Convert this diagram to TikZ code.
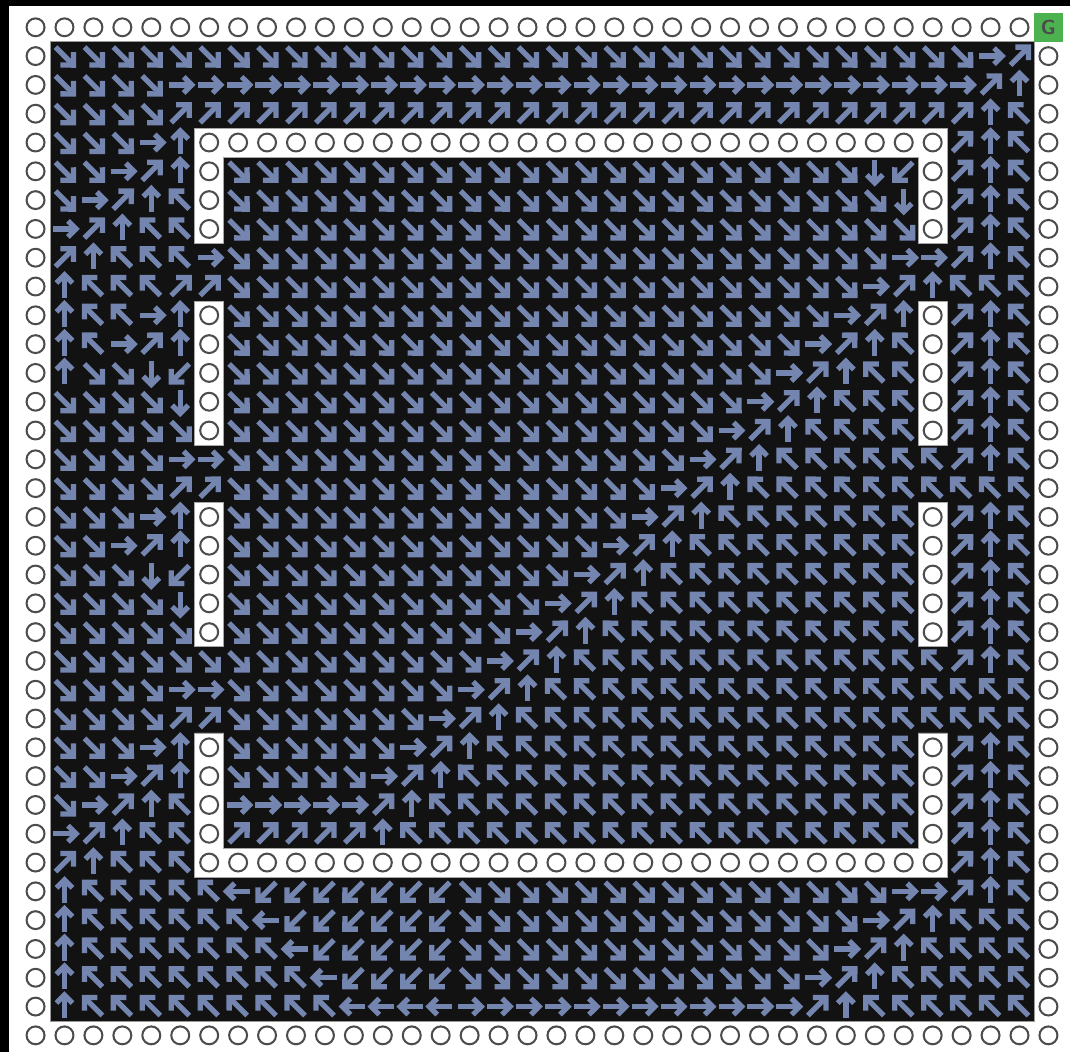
\documentclass[tikz,border=0pt]{standalone}
\definecolor{actblue}{RGB}{116,134,176}
\definecolor{gridblack}{RGB}{18,18,18}
\definecolor{goalgreen}{RGB}{76,178,80}
\def\angR{0}\def\angU{90}\def\angL{180}\def\angD{270}
\def\anga{45}\def\angb{135}\def\angd{225}\def\angc{315}

\begin{document}
\begin{tikzpicture}[x=0.5cm, y=0.4976cm,
        move/.style={draw=actblue, line width=2.6pt, line join=miter},
        wall/.style={draw=black!70, line width=1pt},
        block/.style={fill=white, draw=black!35, line width=0.4pt},
        goal/.style={fill=goalgreen, minimum width=0.5cm, minimum height=0.4976cm,
                inner sep=0pt, font=\sffamily\bfseries, text=black!70},
        pics/act/.style={code={
                \draw[move] (-\len,0) -- (\len,0);
                \draw[move] (\len-\head,\head) -- (\len,0) -- (\len-\head,-\head);
            }}
    ]
    \useasboundingbox (-0.728,0.448) rectangle (36.245,-36.08);
    \fill[black] (-0.728,0.448) rectangle (36.245,0.24);
    \fill[black] (-0.728,0.448) rectangle (-0.417,-36.08);

    \fill[gridblack, draw=black!40, line width=0.4pt] (1,-1) rectangle (35,-35);
    \path[block] (6,-4) -- (32,-4) -- (32,-8) -- (31,-8) -- (31,-5) -- (7,-5) -- (7,-8) -- (6,-8) -- cycle;
    \path[block] (6,-10) rectangle (7,-15);
    \path[block] (31,-10) rectangle (32,-15);
    \path[block] (6,-17) rectangle (7,-22);
    \path[block] (31,-17) rectangle (32,-22);
    \path[block] (6,-25) -- (7,-25) -- (7,-29) -- (31,-29) -- (31,-25) -- (32,-25) -- (32,-30) -- (6,-30) -- cycle;

    \foreach \col in {0,...,34} \draw[wall] (\col+0.5,-0.5) circle[radius=0.31];
    \foreach \col in {0,...,35} \draw[wall] (\col+0.5,-35.5) circle[radius=0.31];
    \foreach \row in {1,...,34} {
        \draw[wall] (0.5,-\row-0.5) circle[radius=0.31];
        \draw[wall] (35.5,-\row-0.5) circle[radius=0.31];
    }
    \node[goal] (goal) at (35.5,-0.5) {G};

    \foreach \row/\runs in {
            1/{32/c,1/R,1/a},
            2/{4/c,28/R,1/a,1/U},
            3/{4/c,28/a,1/U,1/b},
            4/{3/c,1/R,1/U,26/w,1/a,1/U,1/b},
            5/{2/c,1/R,1/a,1/U,1/w,22/c,1/D,1/d,1/w,1/a,1/U,1/b},
            6/{1/c,1/R,1/a,1/U,1/b,1/w,23/c,1/D,1/w,1/a,1/U,1/b},
            7/{1/R,1/a,1/U,2/b,1/w,24/c,1/w,1/a,1/U,1/b},
            8/{1/a,1/U,3/b,1/R,23/c,2/R,1/a,1/U,1/b},
            9/{1/U,3/b,2/a,22/c,1/R,1/a,1/U,3/b},
            10/{1/U,2/b,1/R,1/U,1/w,21/c,1/R,1/a,1/U,1/w,1/a,1/U,1/b},
            11/{1/U,1/b,1/R,1/a,1/U,1/w,20/c,1/R,1/a,1/U,1/b,1/w,1/a,1/U,1/b},
            12/{1/U,2/c,1/D,1/d,1/w,19/c,1/R,1/a,1/U,2/b,1/w,1/a,1/U,1/b},
            13/{4/c,1/D,1/w,18/c,1/R,1/a,1/U,3/b,1/w,1/a,1/U,1/b},
            14/{5/c,1/w,17/c,1/R,1/a,1/U,4/b,1/w,1/a,1/U,1/b},
            15/{4/c,2/R,16/c,1/R,1/a,1/U,6/b,1/a,1/U,1/b},
            16/{4/c,2/a,15/c,1/R,1/a,1/U,10/b},
            17/{3/c,1/R,1/U,1/w,14/c,1/R,1/a,1/U,7/b,1/w,1/a,1/U,1/b},
            18/{2/c,1/R,1/a,1/U,1/w,13/c,1/R,1/a,1/U,8/b,1/w,1/a,1/U,1/b},
            19/{3/c,1/D,1/d,1/w,12/c,1/R,1/a,1/U,9/b,1/w,1/a,1/U,1/b},
            20/{4/c,1/D,1/w,11/c,1/R,1/a,1/U,10/b,1/w,1/a,1/U,1/b},
            21/{5/c,1/w,10/c,1/R,1/a,1/U,11/b,1/w,1/a,1/U,1/b},
            22/{15/c,1/R,1/a,1/U,13/b,1/a,1/U,1/b},
            23/{4/c,2/R,8/c,1/R,1/a,1/U,17/b},
            24/{4/c,2/a,7/c,1/R,1/a,1/U,18/b},
            25/{3/c,1/R,1/U,1/w,6/c,1/R,1/a,1/U,15/b,1/w,1/a,1/U,1/b},
            26/{2/c,1/R,1/a,1/U,1/w,5/c,1/R,1/a,1/U,16/b,1/w,1/a,1/U,1/b},
            27/{1/c,1/R,1/a,1/U,1/b,1/w,5/R,1/a,1/U,17/b,1/w,1/a,1/U,1/b},
            28/{1/R,1/a,1/U,2/b,1/w,5/a,1/U,18/b,1/w,1/a,1/U,1/b},
            29/{1/a,1/U,3/b,26/w,1/a,1/U,1/b},
            30/{1/U,5/b,1/L,7/d,15/c,2/R,1/a,1/U,1/b},
            31/{1/U,6/b,1/L,6/d,14/c,1/R,1/a,1/U,3/b},
            32/{1/U,7/b,1/L,5/d,13/c,1/R,1/a,1/U,4/b},
            33/{1/U,8/b,1/L,4/d,12/c,1/R,1/a,1/U,5/b},
            34/{1/U,9/b,4/L,12/R,1/a,1/U,6/b}}{
        \foreach \cnt/\dir [remember=\last as \start (initially 0),
                evaluate=\cnt as \first using int(\start+1),
                evaluate=\cnt as \last using int(\start+\cnt)] in \runs {
            \foreach \col in {\first,...,\last} {
                \if\dir w
                    \draw[wall] (\col+0.5,-\row-0.5) circle[radius=0.31];
                \else
                    \pgfmathtruncatemacro\ang{\csname ang\dir\endcsname}
                    \pgfmathsetmacro\len{mod(\ang,90)==0 ? 0.40 : 0.44}
                    \pgfmathsetmacro\head{mod(\ang,90)==0 ? 0.28 : 0.32}
                    \pic[rotate=\ang] at (\col+0.5,-\row-0.5) {act};
                \fi
            }
        }
    }
\end{tikzpicture}
\end{document}
